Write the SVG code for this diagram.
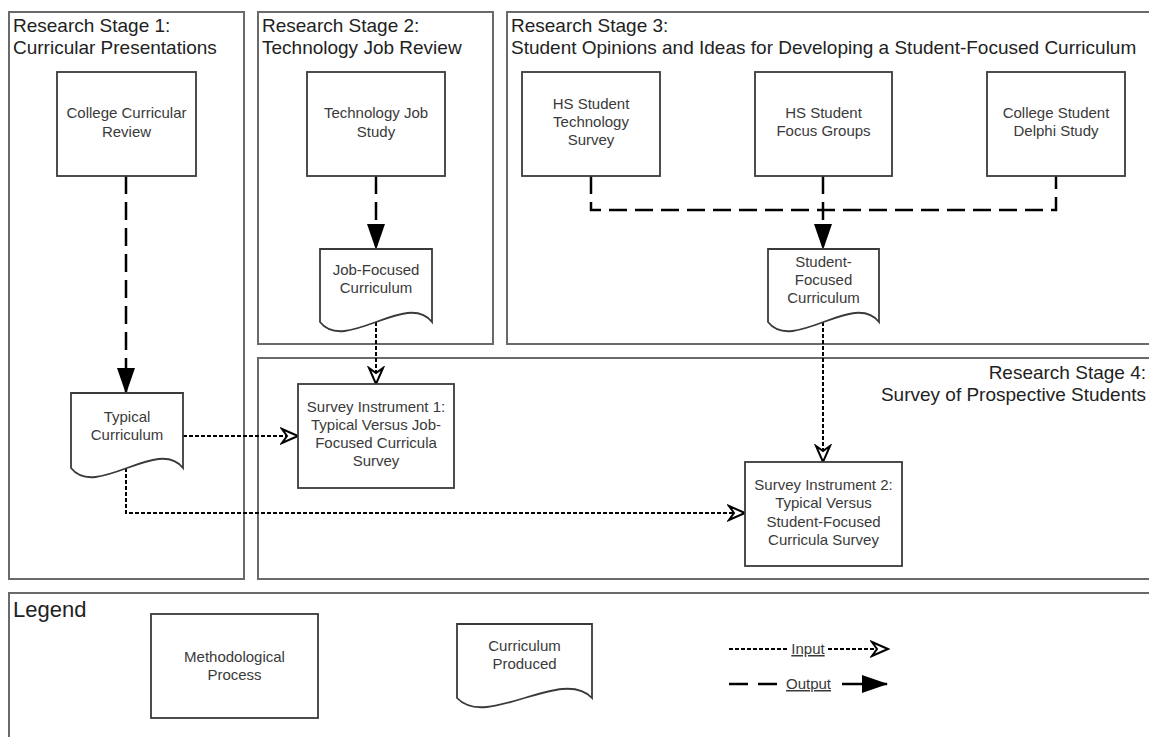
<svg xmlns="http://www.w3.org/2000/svg" width="1149" height="737" viewBox="0 0 1149 737">
<defs>
<style>
.cont{fill:none;stroke:#6a6a6a;stroke-width:2}
.node{fill:#fff;stroke:#3a3a3a;stroke-width:1.8}
.title{font-family:"Liberation Sans",Arial,sans-serif;font-size:19px;fill:#222}
.lbl{font-family:"Liberation Sans",Arial,sans-serif;font-size:15px;fill:#3a3a3a;text-anchor:middle}
.out{fill:none;stroke:#000;stroke-width:2.5;stroke-dasharray:18 8}
.inp{fill:none;stroke:#000;stroke-width:2;stroke-dasharray:4 2}
</style>
<marker id="fa" viewBox="0 0 26 18" markerWidth="26" markerHeight="18" refX="25" refY="9" orient="auto" markerUnits="userSpaceOnUse">
<path d="M0,0 L26,9 L0,18 Z" fill="#000"/>
</marker>
<marker id="oa" viewBox="-2 -2 20 18" markerWidth="20" markerHeight="18" refX="16" refY="7" orient="auto" markerUnits="userSpaceOnUse">
<path d="M0,0 L16,7 L0,14 L5,7 Z" fill="#fff" stroke="#000" stroke-width="2" stroke-linejoin="miter"/>
</marker>
</defs>
<rect width="1149" height="737" fill="#fff"/>

<g id="stage1">
<rect class="cont" x="9" y="12" width="235" height="567"/>
<text class="title" x="13" y="32">Research Stage 1:</text>
<text class="title" x="13" y="54">Curricular Presentations</text>
</g>
<g id="stage2">
<rect class="cont" x="258" y="12" width="235" height="332"/>
<text class="title" x="262" y="32">Research Stage 2:</text>
<text class="title" x="262" y="54">Technology Job Review</text>
</g>
<g id="stage3">
<rect class="cont" x="507" y="12" width="660" height="332"/>
<text class="title" x="511" y="32">Research Stage 3:</text>
<text class="title" x="511" y="54">Student Opinions and Ideas for Developing a Student-Focused Curriculum</text>
</g>
<g id="stage4">
<rect class="cont" x="258" y="358" width="910" height="221"/>
<text class="title" x="1146" y="379" text-anchor="end">Research Stage 4:</text>
<text class="title" x="1146" y="401" text-anchor="end">Survey of Prospective Students</text>
</g>
<g id="legend">
<rect class="cont" x="9" y="593" width="1160" height="160"/>
<text class="title" x="13" y="617" style="font-size:22px">Legend</text>
</g>

<g id="connectors">
<path class="out" d="M126,176 V393" marker-end="url(#fa)"/>
<path class="out" d="M376,176 V249" marker-end="url(#fa)"/>
<path class="out" d="M591,176 V210 H1056 V176"/>
<path class="out" d="M823,176 V249" marker-end="url(#fa)"/>
<path class="inp" d="M376,322 V384" marker-end="url(#oa)"/>
<path class="inp" d="M823,322 V462" marker-end="url(#oa)"/>
<path class="inp" d="M183,436 H298" marker-end="url(#oa)"/>
<path class="inp" d="M126,468 V513 H745" marker-end="url(#oa)"/>
</g>

<g id="college-curricular-review">
<rect class="node" x="57" y="72" width="139" height="104"/>
<text class="lbl" x="126.5" y="118">College Curricular</text>
<text class="lbl" x="126.5" y="137">Review</text>
</g>
<g id="technology-job-study">
<rect class="node" x="307" y="72" width="138" height="104"/>
<text class="lbl" x="376" y="118">Technology Job</text>
<text class="lbl" x="376" y="137">Study</text>
</g>
<g id="hs-tech-survey">
<rect class="node" x="522" y="72" width="138" height="104"/>
<text class="lbl" x="591" y="109">HS Student</text>
<text class="lbl" x="591" y="127">Technology</text>
<text class="lbl" x="591" y="145">Survey</text>
</g>
<g id="hs-focus-groups">
<rect class="node" x="755" y="72" width="137" height="104"/>
<text class="lbl" x="823.5" y="118">HS Student</text>
<text class="lbl" x="823.5" y="136">Focus Groups</text>
</g>
<g id="college-delphi">
<rect class="node" x="987" y="72" width="138" height="104"/>
<text class="lbl" x="1056" y="118">College Student</text>
<text class="lbl" x="1056" y="136">Delphi Study</text>
</g>
<g id="job-focused-curriculum">
<path class="node" d="M320,249 H432 V322 C407,290 345,354 320,322 Z"/>
<text class="lbl" x="376" y="275">Job-Focused</text>
<text class="lbl" x="376" y="293">Curriculum</text>
</g>
<g id="student-focused-curriculum">
<path class="node" d="M768,249 H879 V322 C854,290 793,354 768,322 Z"/>
<text class="lbl" x="823.5" y="267">Student-</text>
<text class="lbl" x="823.5" y="285">Focused</text>
<text class="lbl" x="823.5" y="303">Curriculum</text>
</g>
<g id="typical-curriculum">
<path class="node" d="M71,393 H183 V468 C158,436 96,500 71,468 Z"/>
<text class="lbl" x="127" y="422">Typical</text>
<text class="lbl" x="127" y="440">Curriculum</text>
</g>
<g id="survey-instrument-1">
<rect class="node" x="298" y="384" width="156" height="104"/>
<text class="lbl" x="376" y="412">Survey Instrument 1:</text>
<text class="lbl" x="376" y="430">Typical Versus Job-</text>
<text class="lbl" x="376" y="448">Focused Curricula</text>
<text class="lbl" x="376" y="466">Survey</text>
</g>
<g id="survey-instrument-2">
<rect class="node" x="745" y="462" width="157" height="104"/>
<text class="lbl" x="823.5" y="490">Survey Instrument 2:</text>
<text class="lbl" x="823.5" y="508">Typical Versus</text>
<text class="lbl" x="823.5" y="527">Student-Focused</text>
<text class="lbl" x="823.5" y="545">Curricula Survey</text>
</g>

<g id="legend-process">
<rect class="node" x="151" y="614" width="167" height="104"/>
<text class="lbl" x="234.5" y="662">Methodological</text>
<text class="lbl" x="234.5" y="680">Process</text>
</g>
<g id="legend-curriculum">
<path class="node" d="M457,624 H592 V698 C562,666 487,730 457,698 Z"/>
<text class="lbl" x="524.5" y="651">Curriculum</text>
<text class="lbl" x="524.5" y="669">Produced</text>
</g>
<g id="legend-input">
<path class="inp" d="M729,649 H789"/>
<text class="lbl" x="808" y="654" text-decoration="underline">Input</text>
<path class="inp" d="M828,649 H888" marker-end="url(#oa)"/>
</g>
<g id="legend-output">
<path d="M729,684 H777" fill="none" stroke="#000" stroke-width="2.5" stroke-dasharray="19 10"/>
<text class="lbl" x="808.5" y="689" text-decoration="underline">Output</text>
<path d="M842,684 H887" fill="none" stroke="#000" stroke-width="2.5" marker-end="url(#fa)"/>
</g>
</svg>
